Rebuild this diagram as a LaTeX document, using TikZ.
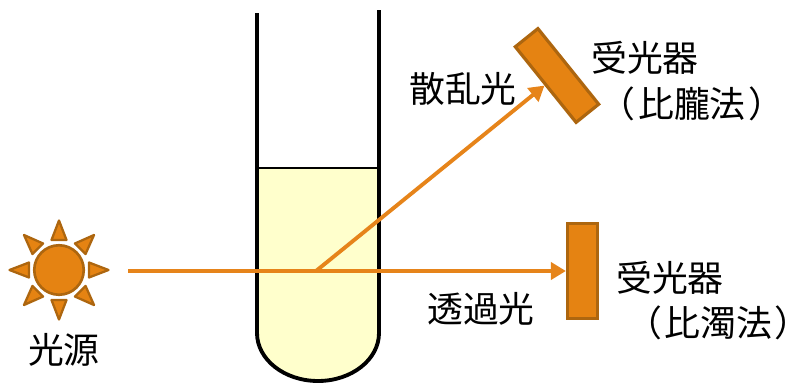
\documentclass[tikz,border=0pt]{standalone}
\usepackage{fontspec}
\usepackage{xcolor}
\usetikzlibrary{arrows.meta,positioning}
\setmainfont{Noto Sans CJK JP}
\definecolor{Beam}{HTML}{E6841A}
\definecolor{Sensor}{HTML}{E58312}
\definecolor{SensorLine}{HTML}{AD660F}
\definecolor{Liquid}{HTML}{FFFFCC}
\newcommand{\lawname}[1]{（\kern.07em#1\kern.07em）}
\tikzset{
  sensorbox/.style={draw=SensorLine,fill=Sensor,line width=1.8pt,inner sep=0pt},
  sunray/.style={draw=SensorLine,fill=Sensor,line width=1.3pt,line join=round},
  beam/.style={draw=Beam,line width=2.2pt,-{Triangle[length=3mm,width=3.4mm]}},
  tubewall/.style={draw=black,line width=2.2pt},
  label/.style={font=\fontsize{20.4pt}{24pt}\selectfont,inner sep=0pt}
}

\begin{document}
\begin{tikzpicture}[x=0.2mm,y=-0.2mm]
  \useasboundingbox (0,0) rectangle (790,383);
  % test tube
  \fill[Liquid] (257,168) -- (257,333) arc[start angle=180,end angle=0,x radius=61,y radius=48] -- (379,168) -- cycle;
  \draw[black,line width=1.1pt] (257,168) -- (379,168);
  \draw[tubewall] (257,13) -- (257,333) arc[start angle=180,end angle=0,x radius=61,y radius=48] -- (379,10);
  % lamp
  \node[circle,draw=SensorLine,fill=Sensor,line width=1.5pt,minimum size=9.9mm,inner sep=0pt] (sun) at (59,270) {};
  \foreach \a in {0,45,...,315}
    \draw[sunray,shift={(sun.center)},rotate=\a] (30,-7.5) -- (49.5,0) -- (30,7.5) -- cycle;
  % detectors
  \node[sensorbox,minimum width=19.4mm,minimum height=5.8mm,rotate=-51.2] (scatdet) at (557,75.5) {};
  \node[sensorbox,minimum width=6mm,minimum height=19.1mm] (transdet) at (582.5,271) {};
  % beams
  \coordinate (src) at (128,271);
  \coordinate (hit) at (316,271);
  \draw[beam] (src) -- (transdet.west);
  \draw[beam] (hit) -- (scatdet.south);
  % labels
  \node[label] (srclab) at (64,350) {光源};
  \node[label] (scatlab) at (463,89) {散乱光};
  \node[label] (translab) at (481,309) {透過光};
  \node[label] (scatname) at (645,58) {受光器};
  \node[label] (scatlaw) at (692,104) {\lawname{比朧法}};
  \node[label] (transname) at (670,278) {受光器};
  \node[label] (translaw) at (718.5,323) {\lawname{比濁法}};
\end{tikzpicture}
\end{document}
